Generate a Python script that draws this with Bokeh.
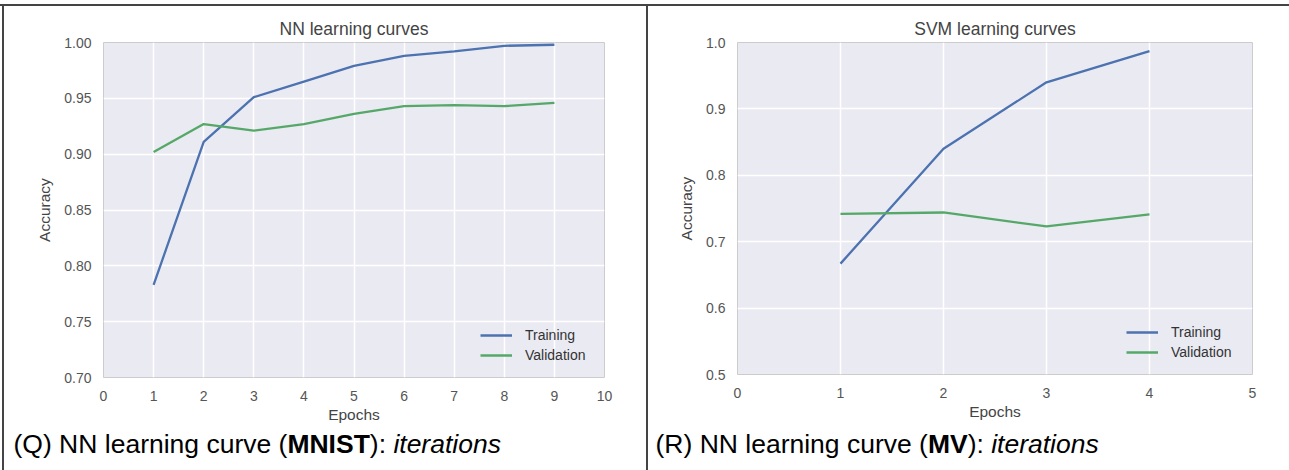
from bokeh.plotting import figure
from bokeh.models import FixedTicker, Label, Spacer, PrintfTickFormatter
from bokeh.layouts import row, column
from bokeh.embed import file_html
from bokeh.resources import INLINE

FONT = "Liberation Sans"

# ---------------- data ----------------
nn_epochs = [1, 2, 3, 4, 5, 6, 7, 8, 9]
nn_train = [0.783, 0.911, 0.951, 0.965, 0.979, 0.988, 0.992, 0.997, 0.998]
nn_val = [0.902, 0.927, 0.921, 0.927, 0.936, 0.943, 0.944, 0.943, 0.946]

svm_epochs = [1, 2, 3, 4]
svm_train = [0.667, 0.840, 0.940, 0.987]
svm_val = [0.742, 0.744, 0.723, 0.741]

nn_xticks = [0, 1, 2, 3, 4, 5, 6, 7, 8, 9, 10]
nn_yticks = [0.70, 0.75, 0.80, 0.85, 0.90, 0.95, 1.00]
svm_xticks = [0, 1, 2, 3, 4, 5]
svm_yticks = [0.5, 0.6, 0.7, 0.8, 0.9, 1.0]

series_names = ["Training", "Validation"]
titles = ["NN learning curves", "SVM learning curves"]
x_label = "Epochs"
y_label = "Accuracy"

caption_q = [("(Q) NN learning curve (", "normal"), ("MNIST", "bold"), ("): ", "normal"), ("iterations", "italic")]
caption_r = [("(R) NN learning curve (", "normal"), ("MV", "bold"), ("): ", "normal"), ("iterations", "italic")]

# ---------------- styling ----------------
C_TRAIN = "#4C72B0"
C_VAL = "#55A868"
BG = "#EAEAF2"
LINE = "#444444"
CAP_SIZE = 26.5

# Arial / Liberation Sans advance widths (1/1000 em)
REG = {' ': 278, '(': 333, ')': 333, ':': 278, 'Q': 778, 'R': 722, 'N': 722, 'l': 222, 'e': 556,
       'a': 556, 'r': 333, 'n': 556, 'i': 222, 'g': 556, 'c': 500, 'u': 556, 'v': 500, 't': 278,
       'o': 556, 's': 500}
BOLD = {'M': 833, 'N': 722, 'I': 278, 'S': 667, 'T': 611, 'V': 667}


def text_width(s, size, style):
    table = BOLD if style == "bold" else REG
    return sum(table.get(ch, 556) for ch in s) * size / 1000.0


def make_fig(w, h, bl, br, bt, bb, xr, yr, xticks, yticks, yfmt, title, xs, tr, va, leg_xy):
    p = figure(width=w, height=h, x_range=xr, y_range=yr, output_backend="svg",
               toolbar_location=None, min_border_left=bl, min_border_right=br,
               min_border_top=bt, min_border_bottom=bb, title=title)
    p.background_fill_color = BG
    p.border_fill_color = "white"
    p.outline_line_color = "#cccccc"
    p.outline_line_width = 1

    p.title.text_font = FONT
    p.title.text_font_size = "17.5px"
    p.title.text_font_style = "normal"
    p.title.text_color = "#444444"
    p.title.align = "center"
    p.title.standoff = 8

    xt = FixedTicker(ticks=xticks)
    yt = FixedTicker(ticks=yticks)
    p.xaxis.ticker = xt
    p.yaxis.ticker = yt
    p.xgrid.ticker = xt
    p.ygrid.ticker = yt
    p.yaxis.formatter = PrintfTickFormatter(format=yfmt)
    p.xaxis.formatter = PrintfTickFormatter(format="%d")
    p.grid.grid_line_color = "white"
    p.grid.grid_line_width = 1.5

    for ax in (p.xaxis, p.yaxis):
        ax.axis_line_color = None
        ax.major_tick_line_color = None
        ax.minor_tick_line_color = None
        ax.major_tick_out = 0
        ax.major_tick_in = 0
        ax.minor_tick_out = 0
        ax.major_label_text_font = FONT
        ax.major_label_text_font_size = "14px"
        ax.major_label_text_color = "#555555"
        ax.axis_label_text_font = FONT
        ax.axis_label_text_font_size = "15.5px"
        ax.axis_label_text_font_style = "normal"
        ax.axis_label_text_color = "#444444"
    p.xaxis.axis_label = x_label
    p.yaxis.axis_label = y_label
    p.xaxis.major_label_standoff = 13
    p.yaxis.major_label_standoff = 12
    p.xaxis.axis_label_standoff = 2
    p.yaxis.axis_label_standoff = 8

    p.line(xs, tr, line_color=C_TRAIN, line_width=2.3, legend_label=series_names[0])
    p.line(xs, va, line_color=C_VAL, line_width=2.3, legend_label=series_names[1])

    lg = p.legend[0]
    lg.location = leg_xy
    lg.background_fill_alpha = 0
    lg.border_line_alpha = 0
    lg.margin = 0
    lg.padding = 10
    lg.spacing = 4
    lg.glyph_width = 32
    lg.glyph_height = 16
    lg.label_height = 16
    lg.label_standoff = 13
    lg.label_text_font = FONT
    lg.label_text_font_size = "14px"
    lg.label_text_color = "#333333"
    return p


def make_caption(w, h, caption, cap_x, cap_y):
    c = figure(width=w, height=h, x_range=(0, 1), y_range=(0, 1), output_backend="svg",
               toolbar_location=None, min_border=0, x_axis_type=None, y_axis_type=None)
    c.background_fill_color = "white"
    c.border_fill_color = "white"
    c.outline_line_color = None
    c.grid.visible = False
    x = cap_x
    for txt, style in caption:
        c.add_layout(Label(x=x, y=cap_y, x_units="screen", y_units="screen", text=txt,
                           text_font=FONT, text_font_size=f"{CAP_SIZE}px", text_color="black",
                           text_baseline="alphabetic", text_align="left",
                           text_font_style=style))
        x += text_width(txt, CAP_SIZE, style)
    return c


p1 = make_fig(642, 423, 99, 42, 36, 52, (0, 10), (0.70, 1.00), nn_xticks, nn_yticks, "%.2f",
              titles[0], nn_epochs, nn_train, nn_val, (367, 4))
p2 = make_fig(641, 423, 89, 37, 36, 55, (0, 5), (0.5, 1.0), svm_xticks, svm_yticks, "%.1f",
              titles[1], svm_epochs, svm_train, svm_val, (379, 4))
c1 = make_caption(642, 41, caption_q, 9, 27)
c2 = make_caption(641, 41, caption_r, 7, 27)

top_gap = Spacer(width=1289, height=4, margin=0)
top_line = Spacer(width=1289, height=2, margin=0, styles={"background-color": LINE})
left_gap = Spacer(width=2, height=464, margin=0)
left_line = Spacer(width=2, height=464, margin=0, styles={"background-color": LINE})
mid_line = Spacer(width=2, height=464, margin=0, styles={"background-color": LINE})

cell1 = column(p1, row(c1), spacing=0)
cell2 = column(p2, row(c2), spacing=0)
layout = column(top_gap, top_line, row(left_gap, left_line, cell1, mid_line, cell2, spacing=0), spacing=0)

with open("out.html", "w") as f:
    f.write(file_html(layout, INLINE))
